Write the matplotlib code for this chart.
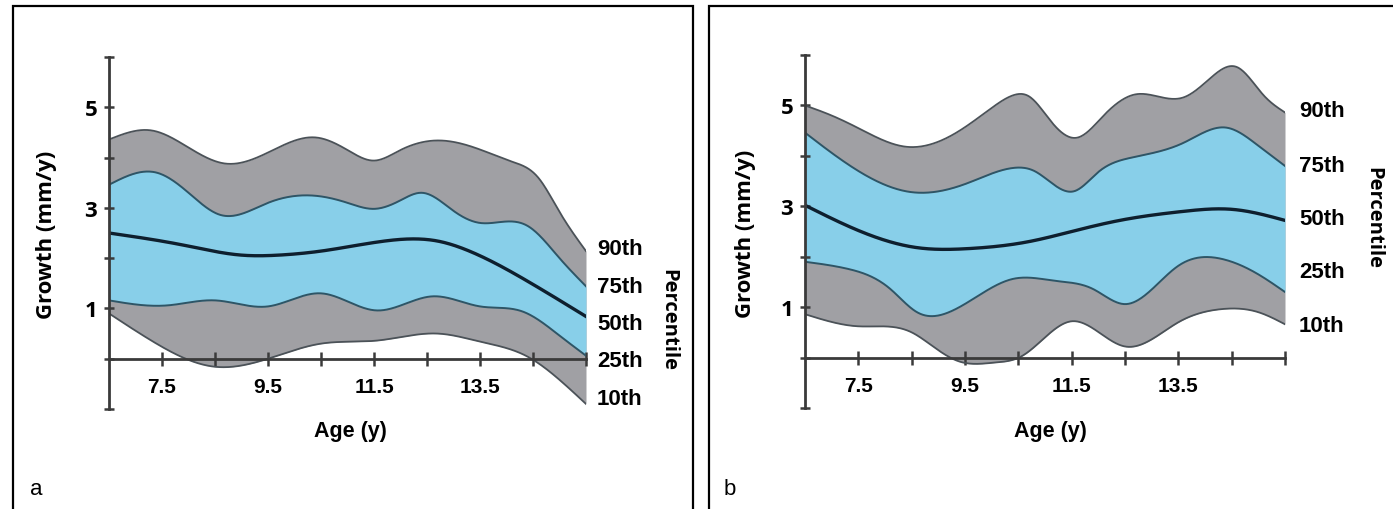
import numpy as np
import matplotlib
matplotlib.use("Agg")
import matplotlib.pyplot as plt
from matplotlib import font_manager
from matplotlib.patches import Rectangle

# ---------------- data ----------------
# Panel a
a_p90_age = [6.5, 7.3, 8.0, 8.7, 9.5, 10.4, 11.0, 11.5, 12.0, 12.7, 13.5, 14.1, 14.6, 15.0, 15.5]
a_p90_val = [4.36, 4.54, 4.2, 3.88, 4.1, 4.4, 4.15, 3.94, 4.15, 4.34, 4.16, 3.92, 3.6, 2.92, 2.14]
a_p75_age = [6.5, 7.4, 8.0, 8.6, 9.5, 10.4, 11.0, 11.5, 12.0, 12.4, 13.0, 13.5, 13.9, 14.4, 15.0, 15.5]
a_p75_val = [3.46, 3.7, 3.3, 2.86, 3.1, 3.24, 3.1, 2.98, 3.15, 3.3, 2.94, 2.7, 2.72, 2.64, 2.0, 1.44]
a_p50_age = [6.5, 7.9, 9.0, 9.7, 10.5, 11.7, 12.7, 13.3, 14.4, 15.5]
a_p50_val = [2.5, 2.26, 2.06, 2.06, 2.14, 2.34, 2.34, 2.14, 1.54, 0.84]
a_p25_age = [6.5, 7.6, 8.5, 9.5, 10.5, 11.55, 12.6, 13.5, 14.3, 15.0, 15.5]
a_p25_val = [1.16, 1.06, 1.16, 1.04, 1.3, 0.96, 1.24, 1.04, 0.94, 0.46, 0.06]
a_p10_age = [6.5, 7.3, 8.5, 9.5, 10.5, 11.55, 12.7, 13.5, 14.4, 15.0, 15.5]
a_p10_val = [0.9, 0.36, -0.16, 0.0, 0.3, 0.36, 0.5, 0.34, 0.04, -0.42, -0.9]

# Panel b
b_p90_age = [6.5, 7.0, 7.5, 8.4, 9.4, 10.0, 10.4, 10.7, 11.1, 11.6, 12.1, 12.7, 13.6, 14.1, 14.6, 15.1, 15.5]
b_p90_val = [5.0, 4.8, 4.55, 4.18, 4.5, 4.95, 5.2, 5.18, 4.7, 4.36, 4.8, 5.22, 5.16, 5.54, 5.76, 5.2, 4.86]
b_p75_age = [6.5, 7.5, 8.5, 9.55, 10.4, 10.8, 11.55, 12.0, 12.6, 13.6, 14.4, 15.0, 15.5]
b_p75_val = [4.46, 3.7, 3.28, 3.46, 3.76, 3.7, 3.3, 3.68, 3.96, 4.26, 4.56, 4.2, 3.8]
b_p50_age = [6.5, 7.5, 8.6, 9.55, 10.7, 11.5, 12.4, 13.6, 14.5, 15.5]
b_p50_val = [3.02, 2.52, 2.18, 2.16, 2.3, 2.5, 2.72, 2.9, 2.94, 2.72]
b_p25_age = [6.5, 7.3, 8.1, 8.6, 9.2, 10.4, 11.2, 11.9, 12.5, 13.5, 14.3, 15.0, 15.5]
b_p25_val = [1.9, 1.76, 1.36, 0.9, 0.9, 1.56, 1.52, 1.36, 1.06, 1.82, 1.96, 1.65, 1.3]
b_p10_age = [6.5, 7.5, 8.5, 8.9, 9.4, 10.05, 10.55, 11.0, 11.5, 12.5, 13.5, 14.3, 15.0, 15.5]
b_p10_val = [0.86, 0.62, 0.5, 0.22, -0.08, -0.1, 0.02, 0.4, 0.72, 0.22, 0.7, 0.96, 0.9, 0.66]

percentile_labels = ["90th", "75th", "50th", "25th", "10th"]
x_ticks = [7.5, 8.5, 9.5, 10.5, 11.5, 12.5, 13.5, 14.5, 15.5]
x_tick_labels = ["7.5", "", "9.5", "", "11.5", "", "13.5", "", ""]
y_ticks = [-1, 0, 1, 2, 3, 4, 5, 6]
y_tick_labels = ["", "", "1", "", "3", "", "5", ""]

# ---------------- helpers ----------------
def natural_spline(x, y, xs):
    x = np.asarray(x, float); y = np.asarray(y, float)
    n = len(x)
    h = np.diff(x)
    A = np.zeros((n, n)); r = np.zeros(n)
    A[0, 0] = 1; A[-1, -1] = 1
    for i in range(1, n - 1):
        A[i, i - 1] = h[i - 1]
        A[i, i] = 2 * (h[i - 1] + h[i])
        A[i, i + 1] = h[i]
        r[i] = 6 * ((y[i + 1] - y[i]) / h[i] - (y[i] - y[i - 1]) / h[i - 1])
    M = np.linalg.solve(A, r)
    idx = np.clip(np.searchsorted(x, xs) - 1, 0, n - 2)
    x0 = x[idx]; x1 = x[idx + 1]; hh = x1 - x0
    t0 = x1 - xs; t1 = xs - x0
    return (M[idx] * t0 ** 3 / (6 * hh) + M[idx + 1] * t1 ** 3 / (6 * hh)
            + (y[idx] / hh - M[idx] * hh / 6) * t0
            + (y[idx + 1] / hh - M[idx + 1] * hh / 6) * t1)

names = {f.name for f in font_manager.fontManager.ttflist}
narrow = "Liberation Sans Narrow" if "Liberation Sans Narrow" in names else "Liberation Sans"
wide = "Open Sans" if "Open Sans" in names else "DejaVu Sans"

W, H = 1393, 510
fig = plt.figure(figsize=(W / 100, H / 100), dpi=100)

GRAY = "#a0a0a4"
BLUE = "#88cfe9"
EDGE_GRAY = "#4b5258"
EDGE_BLUE = "#2e5566"
MED = "#0e1f2e"
AXC = "#3a3a3a"

# panel frames
fig.add_artist(Rectangle((13 / W, -0.05), (693 - 13) / W, 1 - 7 / H + 0.05,
                         transform=fig.transFigure, fill=False, lw=1.6, ec="black"))
fig.add_artist(Rectangle((709 / W, -0.05), (1400 - 709) / W, 1 - 7 / H + 0.05,
                         transform=fig.transFigure, fill=False, lw=1.6, ec="black"))

panels = [
    dict(left=109, right=586, top=58, bottom=410, letter="a", letter_x=30,
         curves=[(a_p90_age, a_p90_val), (a_p75_age, a_p75_val), (a_p50_age, a_p50_val),
                 (a_p25_age, a_p25_val), (a_p10_age, a_p10_val)],
         label_y=[2.19, 1.43, 0.70, -0.04, -0.80], label_dx=8,
         pct_xy=(668, 320), growth_xy=(47, 235), age_xy=(350, 432)),
    dict(left=805, right=1285, top=56, bottom=409, letter="b", letter_x=724,
         curves=[(b_p90_age, b_p90_val), (b_p75_age, b_p75_val), (b_p50_age, b_p50_val),
                 (b_p25_age, b_p25_val), (b_p10_age, b_p10_val)],
         label_y=[4.9, 3.8, 2.75, 1.71, 0.64], label_dx=10,
         pct_xy=(1373, 218), growth_xy=(745, 234), age_xy=(1050, 432)),
]

xs = np.linspace(6.5, 15.5, 600)
for p in panels:
    ax = fig.add_axes([p["left"] / W, 1 - p["bottom"] / H,
                       (p["right"] - p["left"]) / W, (p["bottom"] - p["top"]) / H])
    ax.set_xlim(6.5, 15.5)
    ax.set_ylim(-1, 6)
    ax.patch.set_visible(False)
    ys = [natural_spline(a, v, xs) for a, v in p["curves"]]
    p90, p75, p50, p25, p10 = ys
    ax.fill_between(xs, p10, p90, color=GRAY, lw=0, zorder=1)
    ax.fill_between(xs, p25, p75, color=BLUE, lw=0, zorder=1.1)
    ax.plot(xs, p90, color=EDGE_GRAY, lw=1.3, zorder=2)
    ax.plot(xs, p10, color=EDGE_GRAY, lw=1.3, zorder=2)
    ax.plot(xs, p75, color=EDGE_BLUE, lw=1.4, zorder=2)
    ax.plot(xs, p25, color=EDGE_BLUE, lw=1.4, zorder=2)
    ax.plot(xs, p50, color=MED, lw=2.4, zorder=2.2)

    for s in ("top", "right"):
        ax.spines[s].set_visible(False)
    ax.spines["bottom"].set_position(("data", 0))
    ax.spines["left"].set_bounds(-1, 6)
    ax.spines["bottom"].set_bounds(6.5, 15.5)
    for s in ("left", "bottom"):
        ax.spines[s].set_color(AXC)
        ax.spines[s].set_linewidth(2.0)
        ax.spines[s].set_zorder(3)

    ax.set_xticks(x_ticks)
    ax.set_xticklabels(x_tick_labels)
    ax.set_yticks(y_ticks)
    ax.set_yticklabels(y_tick_labels)
    ax.tick_params(axis="x", direction="inout", length=10, width=1.8, color=AXC, pad=8)
    ax.tick_params(axis="y", direction="inout", length=7, width=1.8, color=AXC, pad=5)
    for t in ax.get_xticklabels():
        t.set_fontfamily(narrow); t.set_fontweight("bold"); t.set_fontsize(15)
    for t in ax.get_yticklabels():
        t.set_fontfamily(wide); t.set_fontweight("bold"); t.set_fontsize(16)

    for lab, yv in zip(percentile_labels, p["label_y"]):
        ax.annotate(lab, xy=(15.5, yv), xytext=(p["label_dx"], 0), textcoords="offset points",
                    ha="left", va="center", fontsize=16, fontweight="bold", family=narrow,
                    annotation_clip=False)

    fig.text(p["pct_xy"][0] / W, 1 - p["pct_xy"][1] / H, "Percentile", rotation=270,
             ha="center", va="center", fontsize=14.5, fontweight="bold", family=wide)
    fig.text(p["growth_xy"][0] / W, 1 - p["growth_xy"][1] / H, "Growth (mm/y)", rotation=90,
             ha="center", va="center", fontsize=16, fontweight="bold", family=wide)
    fig.text(p["age_xy"][0] / W, 1 - p["age_xy"][1] / H, "Age (y)",
             ha="center", va="center", fontsize=15.5, fontweight="bold", family=narrow)
    fig.text(p["letter_x"] / W, 1 - 490 / H, p["letter"], ha="left", va="center",
             fontsize=16, family="Liberation Sans")

fig.savefig("out.png", dpi=100)
